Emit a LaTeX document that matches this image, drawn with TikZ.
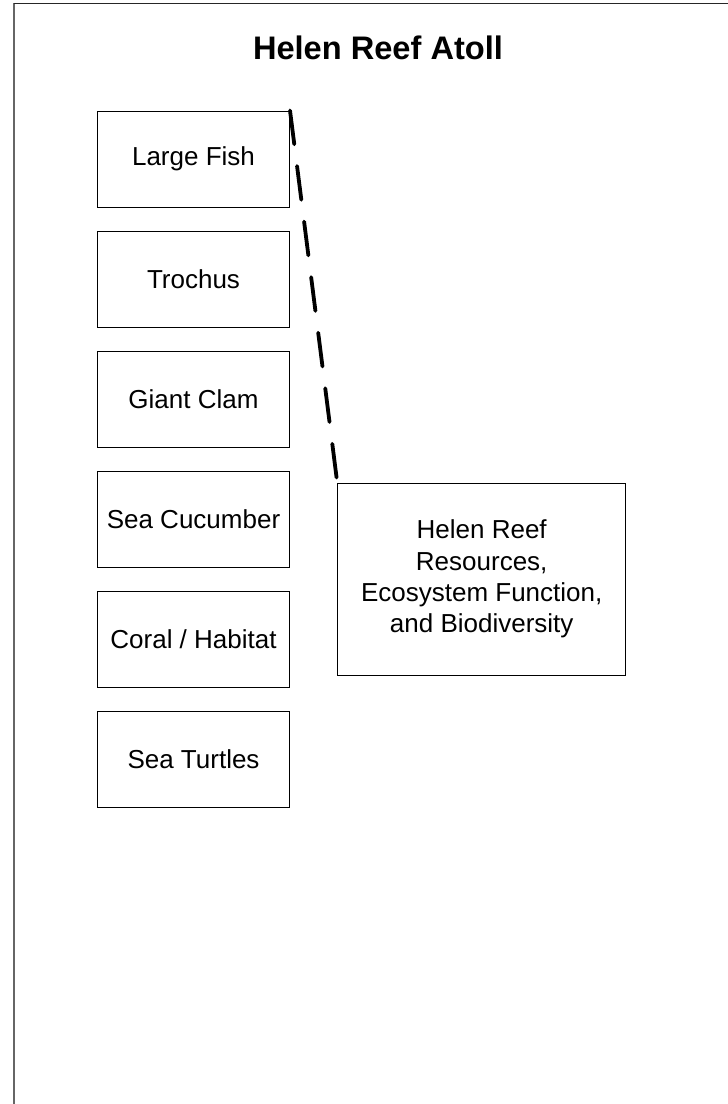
\documentclass[tikz,border=0pt]{standalone}
\usepackage{fontspec}
\setmainfont{Liberation Sans}
\begin{document}
\begin{tikzpicture}[x=1pt,y=-1pt,
  itembox/.style={draw=black, line width=1pt, rectangle, minimum width=192pt, minimum height=96pt, inner sep=0pt, align=center, font=\fontsize{26}{31.3}\selectfont},
  bigbox/.style={draw=black, line width=1pt, rectangle, minimum width=288pt, minimum height=192pt, inner sep=0pt, align=center, font=\fontsize{26}{31.3}\selectfont},
  link/.style={line width=3.8pt, line cap=round, dash pattern=on 34pt off 22pt}]
\useasboundingbox (0,0) rectangle (728,1104);
% outer frame
\draw[line width=1.8pt, black!60] (13.7,1104) -- (13.7,3.4);
\draw[line width=1.5pt, black!85] (13.7,3.4) -- (728,3.4);
% title
\node[font=\fontsize{32.6}{39}\selectfont\bfseries, inner sep=0pt] (title) at (378,48) {Helen Reef Atoll};
% boxes
\node[itembox] (fish) at (193.5,159) {Large Fish};
\node[itembox] (troch) at (193.5,279) {Trochus};
\node[itembox] (clam) at (193.5,399) {Giant Clam};
\node[itembox] (cuc) at (193.5,519) {Sea Cucumber};
\node[itembox] (coral) at (193.5,639) {Coral / Habitat};
\node[itembox] (turt) at (193.5,759) {Sea Turtles};
\node[bigbox] (res) at (481.7,579) {Helen Reef\\Resources,\\Ecosystem Function,\\and Biodiversity};
% connector
\draw[link] (fish.north east) -- (res.north west);
\end{tikzpicture}
\end{document}
